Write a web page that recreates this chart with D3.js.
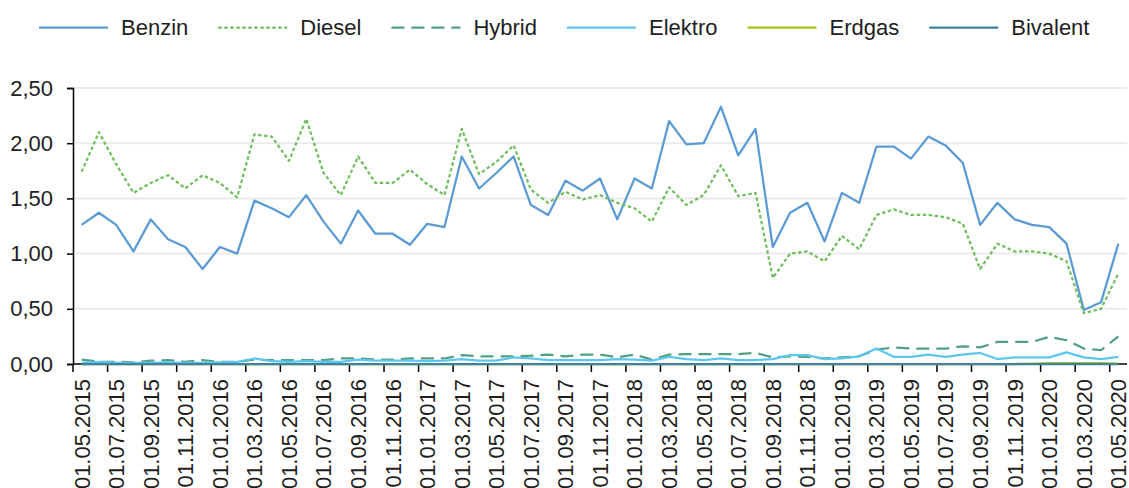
<!DOCTYPE html>
<html>
<head>
<meta charset="utf-8">
<script src="https://d3js.org/d3.v7.min.js"></script>
<style>
body { margin: 0; background: white; }
svg { display: block; background: white; font-family: "Liberation Sans", Arial, sans-serif; }
</style>
</head>
<body>
<svg id="chart" width="1129" height="488"></svg>
<script>
// monthly dates, 01.05.2015 - 01.05.2020
var categories = [
  "01.05.2015","01.06.2015","01.07.2015","01.08.2015","01.09.2015","01.10.2015","01.11.2015","01.12.2015",
  "01.01.2016","01.02.2016","01.03.2016","01.04.2016","01.05.2016","01.06.2016","01.07.2016","01.08.2016",
  "01.09.2016","01.10.2016","01.11.2016","01.12.2016","01.01.2017","01.02.2017","01.03.2017","01.04.2017",
  "01.05.2017","01.06.2017","01.07.2017","01.08.2017","01.09.2017","01.10.2017","01.11.2017","01.12.2017",
  "01.01.2018","01.02.2018","01.03.2018","01.04.2018","01.05.2018","01.06.2018","01.07.2018","01.08.2018",
  "01.09.2018","01.10.2018","01.11.2018","01.12.2018","01.01.2019","01.02.2019","01.03.2019","01.04.2019",
  "01.05.2019","01.06.2019","01.07.2019","01.08.2019","01.09.2019","01.10.2019","01.11.2019","01.12.2019",
  "01.01.2020","01.02.2020","01.03.2020","01.04.2020","01.05.2020"
];

var benzin = [
  1.26, 1.37, 1.26, 1.02, 1.31, 1.13, 1.06, 0.86, 1.06, 1.00, 1.48, 1.41, 1.33, 1.53, 1.29, 1.09, 1.39, 1.18, 1.18,
  1.08, 1.27, 1.24, 1.88, 1.59, 1.73, 1.88, 1.44, 1.35, 1.66, 1.57, 1.68, 1.31, 1.68, 1.59, 2.20, 1.99, 2.00, 2.33, 1.89, 2.13,
  1.06, 1.37, 1.46, 1.11, 1.55, 1.46, 1.97, 1.97, 1.86, 2.06, 1.98, 1.82, 1.26, 1.46, 1.31, 1.26, 1.24, 1.09, 0.49, 0.56, 1.09
];
var diesel = [
  1.74, 2.10, 1.81, 1.55, 1.64, 1.71, 1.59, 1.71, 1.64, 1.51, 2.08, 2.06, 1.84, 2.22, 1.73, 1.53, 1.88, 1.64, 1.64,
  1.76, 1.63, 1.53, 2.13, 1.72, 1.83, 1.98, 1.58, 1.46, 1.56, 1.49, 1.53, 1.46, 1.41, 1.29, 1.60, 1.44, 1.53, 1.80, 1.52, 1.55,
  0.78, 1.00, 1.02, 0.93, 1.16, 1.04, 1.35, 1.40, 1.35, 1.35, 1.33, 1.27, 0.86, 1.09, 1.02, 1.02, 1.00, 0.93, 0.46, 0.50, 0.82
];
var hybrid = [
  0.04, 0.02, 0.02, 0.015, 0.03, 0.035, 0.02, 0.035, 0.02, 0.02, 0.04, 0.035, 0.035, 0.035, 0.035, 0.05,
  0.05, 0.04, 0.04, 0.05, 0.05, 0.05, 0.08, 0.07, 0.07, 0.07, 0.075, 0.085, 0.07, 0.085, 0.085,
  0.06, 0.085, 0.04, 0.085, 0.09, 0.09, 0.09, 0.09, 0.10, 0.06, 0.07, 0.065, 0.05, 0.06, 0.07,
  0.13, 0.15, 0.14, 0.14, 0.14, 0.16, 0.15, 0.20, 0.20, 0.20, 0.245, 0.215, 0.14, 0.125, 0.25
];
var elektro = [
  0.01, 0.02, 0.01, 0.01, 0.01, 0.015, 0.01, 0.01, 0.015, 0.02, 0.05, 0.025, 0.02, 0.025, 0.02, 0.02,
  0.04, 0.03, 0.03, 0.03, 0.025, 0.03, 0.045, 0.03, 0.03, 0.06, 0.05, 0.035, 0.035, 0.035, 0.035,
  0.045, 0.04, 0.03, 0.065, 0.045, 0.035, 0.05, 0.035, 0.035, 0.045, 0.08, 0.08, 0.045, 0.05, 0.07,
  0.14, 0.065, 0.065, 0.085, 0.065, 0.085, 0.10, 0.045, 0.06, 0.06, 0.06, 0.105, 0.06, 0.045, 0.065
];
var erdgas = [
  0, 0, 0, 0, 0, 0, 0, 0, 0, 0, 0, 0, 0, 0, 0, 0, 0, 0, 0, 0,
  0, 0, 0, 0, 0, 0, 0, 0, 0, 0, 0, 0, 0, 0, 0, 0, 0, 0, 0, 0,
  0, 0, 0, 0, 0, 0, 0, 0, 0, 0, 0, 0, 0, 0, 0, 0.004, 0.008, 0.008, 0.008, 0.008, 0.004
];
var bivalent = [
  0, 0, 0, 0, 0, 0, 0, 0, 0, 0, 0, 0, 0, 0, 0, 0, 0, 0, 0, 0,
  0, 0, 0, 0, 0, 0, 0, 0, 0, 0, 0, 0, 0, 0, 0, 0, 0, 0, 0, 0,
  0, 0, 0, 0, 0, 0, 0, 0, 0, 0, 0, 0, 0, 0, 0, 0, 0, 0, 0, 0, 0
];
var yTicks = [0, 0.5, 1, 1.5, 2, 2.5];

var series = [
  {name: "Benzin",   values: benzin,   color: "#5b9bd5", dash: null,      width: 2.25},
  {name: "Diesel",   values: diesel,   color: "#70bf5e", dash: "3.5,2.5", width: 2.25},
  {name: "Hybrid",   values: hybrid,   color: "#52a083", dash: "13,7",    width: 2.25},
  {name: "Elektro",  values: elektro,  color: "#5cc6f2", dash: null,      width: 2.25},
  {name: "Erdgas",   values: erdgas,   color: "#a9c31b", dash: null,      width: 2.25},
  {name: "Bivalent", values: bivalent, color: "#41819f", dash: null,      width: 2.25}
];

var svg = d3.select("#chart");
var plotL = 73, plotR = 1127, plotT = 88, plotB = 364;

var x = d3.scaleBand().domain(categories).range([plotL, plotR]).padding(0);
var y = d3.scaleLinear().domain([0, 2.5]).range([plotB, plotT]);
var bw = x.bandwidth();

var de = d3.formatLocale({decimal: ",", thousands: ".", grouping: [3], currency: ["", "€"]});
var fmt = de.format(".2f");

// gridlines
svg.append("g").selectAll("line")
  .data(yTicks.filter(function(d) { return d > 0; }))
  .enter().append("line")
  .attr("x1", plotL).attr("x2", plotR)
  .attr("y1", function(d) { return y(d); })
  .attr("y2", function(d) { return y(d); })
  .attr("stroke", "#ebebeb")
  .attr("stroke-width", 2);

// y axis
var yAxis = svg.append("g")
  .attr("transform", "translate(" + plotL + ",0)")
  .call(d3.axisLeft(y).tickValues(yTicks).tickSize(6).tickPadding(14).tickFormat(fmt));
yAxis.select(".domain").attr("stroke", "#000").attr("stroke-width", 1.5);
yAxis.selectAll(".tick line").attr("stroke", "#000").attr("stroke-width", 1.5);
yAxis.selectAll("text").attr("font-size", 22).attr("fill", "#1e1e1e")
  .attr("font-family", "Liberation Sans, Arial, sans-serif");

// x axis
var xAxis = svg.append("g");
xAxis.append("line")
  .attr("x1", plotL).attr("x2", plotR)
  .attr("y1", plotB).attr("y2", plotB)
  .attr("stroke", "#000").attr("stroke-width", 1.5);
var labelled = categories.filter(function(d, i) { return i % 2 === 0; });
xAxis.selectAll(".xt").data(labelled).enter().append("line")
  .attr("class", "xt")
  .attr("x1", function(d) { return x(d); })
  .attr("x2", function(d) { return x(d); })
  .attr("y1", plotB).attr("y2", plotB + 8)
  .attr("stroke", "#000").attr("stroke-width", 1.5);
xAxis.selectAll(".xl").data(labelled).enter().append("text")
  .attr("class", "xl")
  .attr("transform", function(d) {
    return "translate(" + (x(d) + bw / 2) + "," + (plotB + 15) + ") rotate(-90)";
  })
  .attr("text-anchor", "end")
  .attr("dy", "0.36em")
  .attr("font-size", 22)
  .attr("fill", "#1e1e1e")
  .text(function(d) { return d; });

// lines
var line = d3.line()
  .x(function(d, i) { return x(categories[i]) + bw / 2; })
  .y(function(d) { return y(d); });

svg.append("g").selectAll("path")
  .data(series)
  .enter().append("path")
  .attr("d", function(s) { return line(s.values); })
  .attr("fill", "none")
  .attr("stroke", function(s) { return s.color; })
  .attr("stroke-width", function(s) { return s.width; })
  .attr("stroke-dasharray", function(s) { return s.dash; })
  .attr("stroke-linejoin", "round");

// legend
var legend = svg.append("g");
var lx = 39, ly = 27.5;
series.forEach(function(s) {
  legend.append("line")
    .attr("x1", lx).attr("x2", lx + 69)
    .attr("y1", ly).attr("y2", ly)
    .attr("stroke", s.color)
    .attr("stroke-width", s.width)
    .attr("stroke-dasharray", s.dash);
  var t = legend.append("text")
    .attr("x", lx + 82).attr("y", ly)
    .attr("dy", "0.36em")
    .attr("font-size", 22)
    .attr("fill", "#1e1e1e")
    .text(s.name);
  lx = lx + 82 + t.node().getComputedTextLength() + 30;
});
</script>
</body>
</html>
